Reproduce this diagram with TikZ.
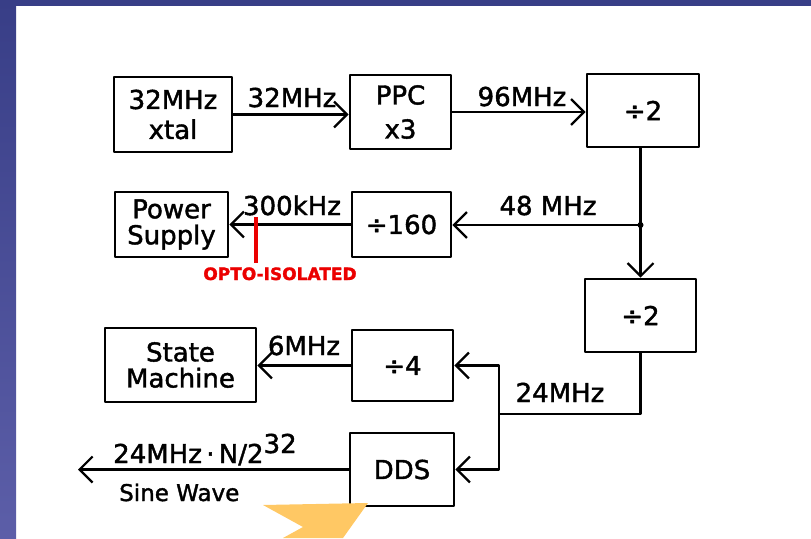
\documentclass[tikz,border=0pt]{standalone}
\usepackage{fontspec}
\setmainfont{DejaVu Sans}[FakeBold=1.6]
\usetikzlibrary{arrows.meta,calc}

\definecolor{slidenavy}{RGB}{56,62,135}
\definecolor{slidelilac}{RGB}{92,94,168}
\definecolor{optored}{RGB}{235,0,0}
\definecolor{chevron}{RGB}{255,200,100}

\begin{document}
\begin{tikzpicture}[
    x=1pt, y=-1pt,
    line join=round,
    font=\fontsize{26}{30}\selectfont
]

% ---------------------------------------------------------
% 1. PAGE FRAME (811 x 538, one unit = one pixel)
% ---------------------------------------------------------
\path [use as bounding box] (0,0) rectangle (811,538);

\fill[slidenavy] (0,0) rectangle (811,6);
\shade[top color=slidenavy, bottom color=slidelilac] (0,0) rectangle (16,538);

\tikzset{blockbox/.style={draw, line width=2.8pt, align=center, inner sep=2pt}}
\tikzset{flow/.style={line width=2.5pt, -{Straight Barb[length=13pt, width=26pt, line width=2.2pt]}}}
\tikzset{wire/.style={line width=2.5pt}}
\tikzset{lbl/.style={inner sep=0pt, anchor=base}}

% ---------------------------------------------------------
% 2. BLOCKS
% ---------------------------------------------------------
\node[blockbox, minimum width=118, minimum height=75] (XT)   at (173,114.5) {32MHz\\xtal};
\node[blockbox, minimum width=101, minimum height=74,
      font=\fontsize{26}{34}\selectfont]               (PPC)  at (400.5,112) {PPC\\x3};
\node[blockbox, minimum width=112, minimum height=73] (D2a)  at (643,110.5) {÷2};

\node[blockbox, minimum width=113, minimum height=65,
      font=\fontsize{26}{26}\selectfont]               (PS)   at (171.5,224.5) {Power\\Supply};
\node[blockbox, minimum width=99,  minimum height=65] (D160) at (401.5,224.5) {÷160};
\node[blockbox, minimum width=111, minimum height=73] (D2b)  at (640.5,315.5) {÷2};

\node[blockbox, minimum width=151, minimum height=74,
      font=\fontsize{26}{26}\selectfont]               (SM)   at (180.5,365) {State\\Machine};
\node[blockbox, minimum width=101, minimum height=71] (D4)   at (402.5,365.5) {÷4};
\node[blockbox, minimum width=104, minimum height=73] (DDS)  at (402,469.5) {DDS};

% ---------------------------------------------------------
% 3. CONNECTORS
% ---------------------------------------------------------
\coordinate (T) at (D2b.north |- 0,225);  % 48 MHz tap
\coordinate (B) at (499,414);             % 24MHz bus
\coordinate (O) at (78,470);              % sine wave out

\draw[flow] (XT.east)  -- (XT.east -| PPC.west);
\draw[flow] (PPC.east) -- (PPC.east -| D2a.west);
\draw[flow] (D2a.south -| T) -- (D2b.north);
\draw[flow] (T) -- (T -| D160.east);
\fill (T) circle (3);
\draw[flow] (D160.west) -- (D160.west -| PS.east);

\draw[wire] (D2b.south) |- (B);
\draw[flow] (B) |- (D4.east);
\draw[flow] (B) |- (DDS.east);
\draw[flow] (D4.west) -- (D4.west -| SM.east);
\draw[flow] (DDS.west) -- (DDS.west -| O);

% opto-isolation mark
\draw[optored, line width=3.5pt] (256,217) -- (256,263);

% ---------------------------------------------------------
% 4. LABELS
% ---------------------------------------------------------
\node[lbl] (L32)  at (292,107) {32MHz};
\node[lbl] (L96)  at (522,106) {96MHz};
\node[lbl] (L300) at (292,215) {300kHz};
\node[lbl] (L48)  at (548,215) {48 MHz};
\node[lbl] (L6)   at (304,355) {6MHz};
\node[lbl] (L24)  at (560,402) {24MHz};

\node[lbl, text=optored, font=\bfseries\fontsize{17}{19}\selectfont] (LOPTO) at (280,280) {OPTO-ISOLATED};

\node[lbl, anchor=base west] (LOUT)  at (113,463) {24MHz\,·\,N/2\raisebox{10pt}{32}};
\node[lbl, anchor=base west, font=\fontsize{23}{26}\selectfont] (LSINE) at (119,501) {Sine Wave};

% slide decoration, cut by the page edge
\fill[chevron] (263,505) -- (368,503) -- (343,538) -- (283,538) -- (303,527) -- cycle;

\end{tikzpicture}
\end{document}
